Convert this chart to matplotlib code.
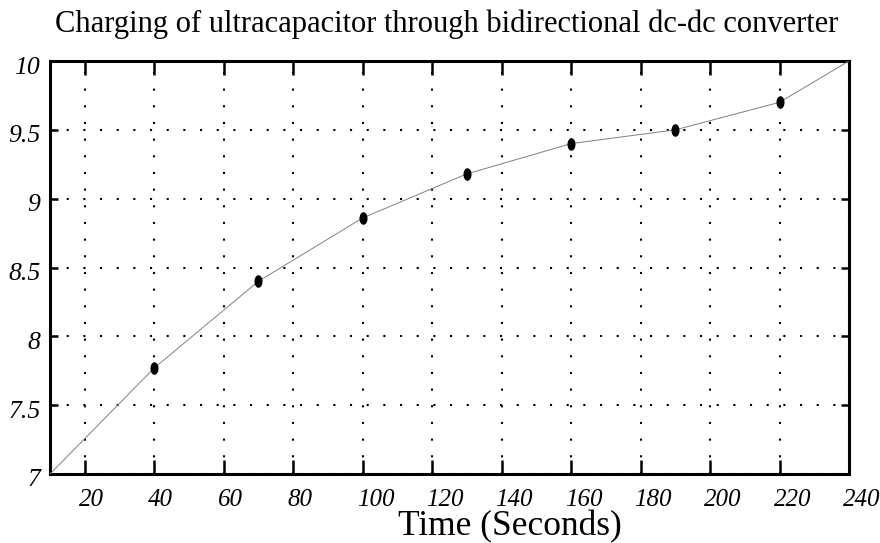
import numpy as np
import matplotlib
matplotlib.use("Agg")
import matplotlib.pyplot as plt
import matplotlib.transforms as mtransforms

# Data
line_time = [10, 40, 70, 100, 130, 160, 190, 220, 240]
line_volt = [7.0, 7.77, 8.40, 8.86, 9.18, 9.40, 9.50, 9.70, 10.0]
marker_time = [40, 70, 100, 130, 160, 190, 220]
marker_volt = [7.77, 8.40, 8.86, 9.18, 9.40, 9.50, 9.70]
xticks = [20, 40, 60, 80, 100, 120, 140, 160, 180, 200, 220, 240]
yticks = [7, 7.5, 8, 8.5, 9, 9.5, 10]
ytick_labels = ["7", "7.5", "8", "8.5", "9", "9.5", "10"]

fig = plt.figure(figsize=(8.8, 5.43), dpi=100)
W, H = 880, 543
ax = fig.add_axes([50 / W, 1 - 474 / H, (849 - 50) / W, (474 - 61) / H])

ax.plot(line_time, line_volt, color="#808080", lw=0.7, zorder=3)
t = np.linspace(0, 2 * np.pi, 40)
ell = list(zip(0.6 * np.cos(t), np.sin(t)))
ax.plot(marker_time, marker_volt, linestyle="none", marker=ell, markersize=8,
        color="black", zorder=4)

ax.set_xlim(10, 240)
ax.set_ylim(7, 10)
ax.set_xticks(xticks)
ax.set_yticks(yticks)
ax.set_xticklabels([str(v) for v in xticks])
ax.set_yticklabels(ytick_labels)

ax.grid(True, color="black", linestyle=(0, (1, 7)), linewidth=1.5)
for s in ax.spines.values():
    s.set_linewidth(2.2)
    s.set_color("black")

ax.tick_params(axis="x", which="major", direction="in", length=10, width=1.8,
               top=True, bottom=True, pad=11)
ax.tick_params(axis="y", which="major", direction="in", length=6, width=1.8,
               left=True, right=True, pad=7)

for lab in ax.get_xticklabels():
    lab.set_fontfamily("Liberation Serif")
    lab.set_fontstyle("italic")
    lab.set_fontsize(18)
    lab.set_horizontalalignment("left")
for lab in ax.get_yticklabels():
    lab.set_fontfamily("Liberation Serif")
    lab.set_fontstyle("italic")
    lab.set_fontsize(18.5)

# shift tick labels slightly
offx = mtransforms.ScaledTranslation(-6 / 100, 0, fig.dpi_scale_trans)
for lab in ax.get_xticklabels():
    lab.set_transform(lab.get_transform() + offx)
offy = mtransforms.ScaledTranslation(0, -4 / 100, fig.dpi_scale_trans)
for lab in ax.get_yticklabels():
    lab.set_transform(lab.get_transform() + offy)

fig.text((55 + 838) / 2 / W, 1 - 32 / H,
         "Charging of ultracapacitor through bidirectional dc-dc converter",
         ha="center", va="baseline", fontfamily="Liberation Serif", fontsize=22)
fig.text(510 / W, 1 - 535 / H, "Time (Seconds)", ha="center", va="baseline",
         fontfamily="Liberation Serif", fontsize=25.5)

fig.savefig("out.png", dpi=100)
